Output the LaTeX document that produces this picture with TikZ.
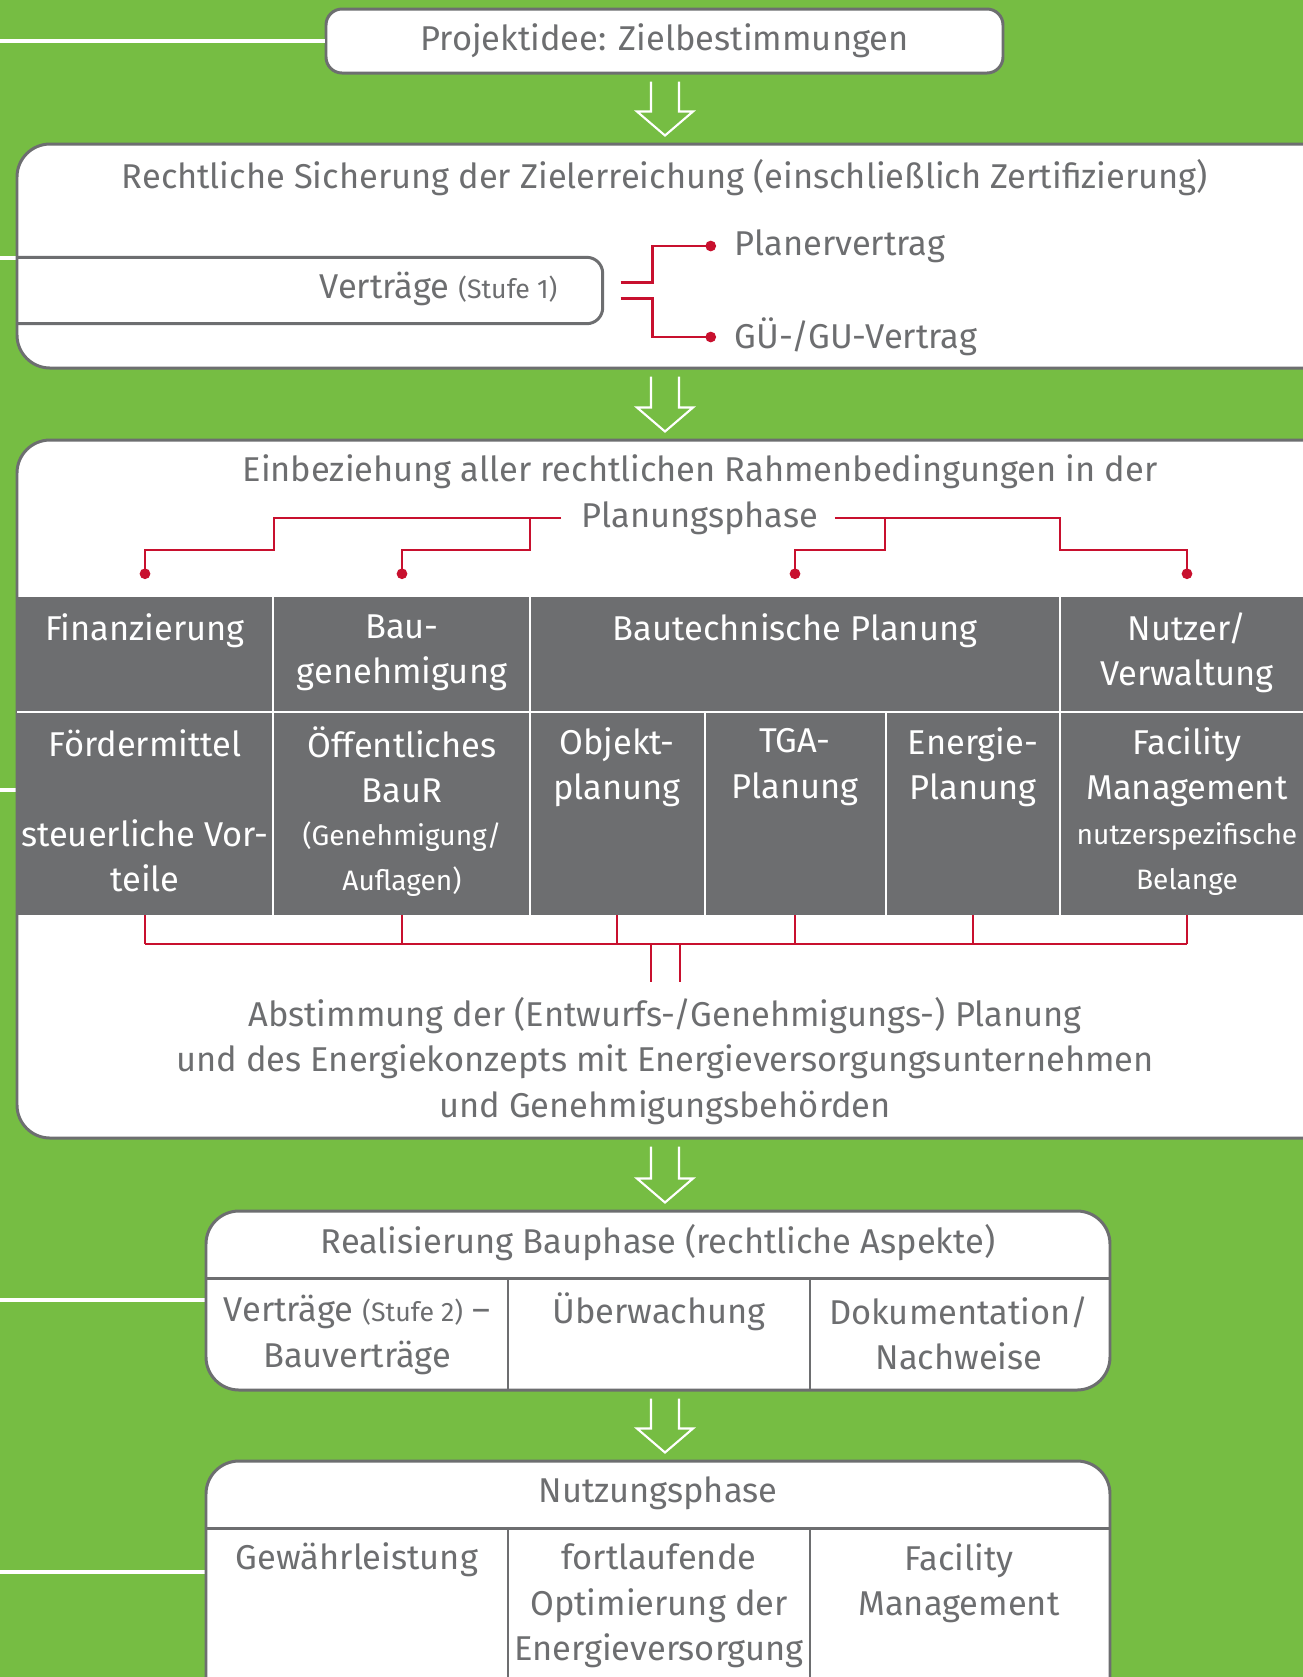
\documentclass[tikz,border=0pt]{standalone}
\usepackage{fontspec}
\setmainfont{Fira Sans}
\usetikzlibrary{calc,fit,arrows.meta}

\definecolor{bggreen}{RGB}{118,189,67}
\definecolor{boxgray}{RGB}{109,110,112}
\definecolor{linered}{RGB}{200,16,46}

% hollow white arrow between two stacked boxes
\newcommand{\flowarrow}[2]{%
  \draw[flow] ($(ax |- #1.south)+(-14,7)$) -- ($(ax |- #2.north)+(-14,-31)$)
    -- ++(-14,0) -- ($(ax |- #2.north)+(0,-7)$) -- ($(ax |- #2.north)+(28,-31)$)
    -- ++(-14,0) -- ($(ax |- #1.south)+(14,7)$);}

\begin{document}
\begin{tikzpicture}[
  x=0.1mm, y=-0.1mm,
  boxframe/.style={draw=boxgray, line width=0.85pt, fill=white},
  rule/.style={draw=boxgray, line width=0.85pt},
  txt/.style={text=boxgray, inner sep=0pt, align=center, font=\fontsize{9.8}{12.9}\selectfont},
  cell/.style={txt, text=white},
  smalltxt/.style={font=\fontsize{8}{12.6}\selectfont},
  redline/.style={draw=linered, line width=0.8pt},
  reddot/.style={-{Circle[length=1.05mm]}},
  leftline/.style={draw=white, line width=0.9pt},
  cellsep/.style={draw=white, line width=0.6pt},
  flow/.style={draw=white, line width=0.6pt, line join=miter},
]

\fill [bggreen] (0,0) rectangle (1303,1677);
\useasboundingbox (0,0) rectangle (1303,1677);
\clip (0,0) rectangle (1303,1677);

\coordinate (ax) at (665,0);

% box 1
\node [boxframe, rounded corners=1.6mm, inner sep=0pt, fit={(326,9) (1003,73)}] (idee) {};
\node [txt] (ideetxt) at (idee.center) {Projektidee: Zielbestimmungen};
\draw [leftline] (0,41) -- (idee.west);

% box 2
\draw [leftline] (0,258) -- (17,258);
\node [boxframe, rounded corners=3.3mm, inner sep=0pt, fit={(17,144) (1345,368)}] (recht) {};
\node [txt] (rechttxt) at (665,178) {Rechtliche Sicherung der Zielerreichung (einschließlich Zertifizierung)};
\node [inner sep=0pt, fit={(17,258) (602,323)}] (vbox) {};
\draw [rule, rounded corners=1.6mm] (vbox.north west) -- (vbox.north east) -- (vbox.south east) -- (vbox.south west);
\node [txt, anchor=east] (vtxt) at (558,289) {Verträge {\fontsize{7.6}{10}\selectfont(Stufe 1)}};
\node [txt, anchor=west] (plan) at (734,246) {Planervertrag};
\node [txt, anchor=west] (gu) at (734,337) {GÜ-/GU-Vertrag};
\draw [redline, reddot] ($(vbox.east)+(18,-8)$) -- ++(32,0) |- ($(plan.west)+(-18,0)$);
\draw [redline, reddot] ($(vbox.east)+(18,8)$) -- ++(32,0) |- ($(gu.west)+(-18,0)$);

% box 3
\draw [leftline] (0,790) -- (17,790);
\node [boxframe, rounded corners=3.3mm, inner sep=0pt, fit={(17,440) (1345,1138)}] (rahmen) {};
\node [txt] (einb) at (700,472) {Einbeziehung aller rechtlichen Rahmenbedingungen in der};
\node [txt] (phase) at (700,518) {Planungsphase};

\fill [boxgray] (17,597) rectangle (1345,915);
\draw [cellsep] (17,712) -- (1345,712);
\foreach \x in {273,530,1060}
  \draw [cellsep] (\x,597) -- (\x,915);
\foreach \x in {705,886}
  \draw [cellsep] (\x,712) -- (\x,915);

\node [cell] (fin) at (145,631) {Finanzierung};
\node [cell] (baug) at (402,653) {Bau-\\genehmigung};
\node [cell] (btp) at (795,631) {Bautechnische Planung};
\node [cell] (nutz) at (1187,653) {Nutzer/\\Verwaltung};
\node [cell] (foerd) at (145,743) {Fördermittel};
\node [cell] (steuer) at (145,856) {steuerliche Vor-\\teile};
\node [cell] (oeff) at (402,765) {Öffentliches\\BauR};
\node [cell, smalltxt] (aufl) at (402,859) {(Genehmigung/\\Auflagen)};
\node [cell] (obj) at (617,767) {Objekt-\\planung};
\node [cell] (tga) at (795,767) {TGA-\\Planung};
\node [cell] (ener) at (973,767) {Energie-\\Planung};
\node [cell] (fm) at (1187,767) {Facility\\Management};
\node [cell, smalltxt] (belange) at (1187,859) {nutzerspezifische\\Belange};

\coordinate (bend) at (0,550);
\coordinate (dotrow) at (0,579);
\draw [redline, reddot] ($(phase.west)+(-20,0)$) -| (274,550) -| (fin |- dotrow);
\draw [redline, reddot] (530,518) |- (baug |- bend) -- (baug |- dotrow);
\draw [redline, reddot] ($(phase.east)+(16,0)$) -| (1060,550) -| (nutz |- dotrow);
\draw [redline, reddot] (885,518) |- (btp |- bend) -- (btp |- dotrow);

\node [txt] (abst) at (665,1061) {Abstimmung der (Entwurfs-/Genehmigungs-) Planung\\und des Energiekonzepts mit Energieversorgungsunternehmen\\und Genehmigungsbehörden};

\coordinate (tabbot) at (0,915);
\coordinate (join) at (0,944);
\coordinate (abtop) at (0,982);
\foreach \n in {foerd,oeff,obj,tga,ener,fm}
  \draw [redline] (\n |- tabbot) -- (\n |- join);
\draw [redline] (foerd |- join) -- (fm |- join);
\draw [redline] ($(abst |- join)+(-14,0)$) -- ($(abst |- abtop)+(-14,0)$);
\draw [redline] ($(abst |- join)+(15,0)$) -- ($(abst |- abtop)+(15,0)$);

% box 4
\draw [leftline] (0,1300) -- (206,1300);
\node [boxframe, rounded corners=3.3mm, inner sep=0pt, fit={(206,1211) (1110,1390)}] (bau) {};
\draw [rule] (206,1278) -- (1110,1278);
\foreach \x in {508,810}
  \draw [rule] (\x,1278) -- (\x,1390);
\node [txt] (bautxt) at (658,1243) {Realisierung Bauphase (rechtliche Aspekte)};
\node [txt] (bv) at (357,1335) {Verträge {\fontsize{7.6}{10}\selectfont(Stufe 2)} –\\Bauverträge};
\node [txt] (ueb) at (659,1312) {Überwachung};
\node [txt] (doku) at (959,1333) {Dokumentation/\\Nachweise};

% box 5
\draw [leftline] (0,1572) -- (206,1572);
\node [boxframe, rounded corners=3.3mm, inner sep=0pt, fit={(206,1461) (1110,1720)}] (nutzung) {};
\draw [rule] (206,1528) -- (1110,1528);
\foreach \x in {508,810}
  \draw [rule] (\x,1528) -- (\x,1720);
\node [txt] (nutzph) at (658,1493) {Nutzungsphase};
\node [txt] (gew) at (357,1560) {Gewährleistung};
\node [txt] (opt) at (659,1606) {fortlaufende\\Optimierung der\\Energieversorgung};
\node [txt] (fm2) at (959,1583) {Facility\\Management};

\flowarrow{idee}{recht}
\flowarrow{recht}{rahmen}
\flowarrow{rahmen}{bau}
\flowarrow{bau}{nutzung}

\end{tikzpicture}
\end{document}
